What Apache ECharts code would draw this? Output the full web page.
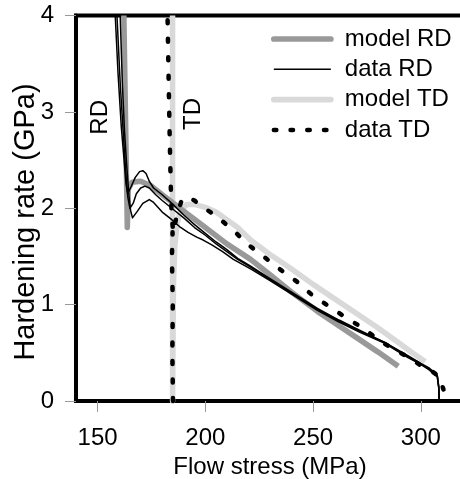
<!DOCTYPE html>
<html>
<head>
<meta charset="utf-8">
<script src="https://cdn.jsdelivr.net/npm/echarts@6/dist/echarts.min.js"></script>
<style>html,body{margin:0;padding:0;background:#fff}#c{width:460px;height:479px}</style>
</head>
<body>
<div id="c"></div>
<script>
// ---- data (flow stress MPa, hardening rate GPa) ----
var xTicks = [150, 200, 250, 300];
var yTicks = [0, 1, 2, 3, 4];

var modelRD = [[162.2,4.0],[163,2.9],[163.8,1.8],[164.3,2.2],[166,2.27],[170,2.28],[175,2.23],[180,2.14],[190,1.97],[200,1.80],[210,1.63],[221,1.47],[230,1.31],[240,1.13],[252,0.93],[260,0.81],[270,0.66],[280,0.51],[289.5,0.36]];

var modelTD = [[184.8,4.0],[184.8,0],[185.2,1.2],[185.8,1.6],[187,1.85],[188.5,1.98],[191.5,2.04],[195,2.04],[200,2.01],[205,1.96],[210,1.88],[215,1.80],[221,1.67],[230,1.52],[240,1.37],[250,1.21],[260,1.06],[270,0.91],[280,0.76],[290,0.60],[296,0.50],[302,0.41]];

var dataRD1 = [[158.2,4.0],[159.5,3.4],[161,2.85],[162.3,2.5],[163.2,2.25],[164,2.15],[165.5,2.22],[167.5,2.32],[169.5,2.38],[171,2.39],[172.5,2.36],[174,2.28],[176,2.21],[180,2.14],[185,2.04],[190,1.93],[195,1.83],[200,1.74],[205,1.65],[210,1.57],[215,1.48],[221,1.40],[230,1.27],[240,1.13],[252,0.96],[262,0.84],[272,0.73],[283,0.61],[294,0.47],[300,0.39],[304,0.34],[307.6,0.27],[308.3,0.15],[308.5,0]];
var dataRD2 = [[159,4.0],[160.5,3.3],[162,2.75],[163,2.4],[164,2.12],[165,2.0],[166.5,2.05],[168,2.15],[170,2.21],[172,2.23],[174,2.21],[177,2.14],[180,2.08],[185,1.99],[190,1.9],[195,1.8],[200,1.72],[205,1.63],[210,1.55],[215,1.47],[221,1.39],[230,1.26],[240,1.12],[252,0.95],[262,0.83],[272,0.72],[283,0.61],[294,0.46],[300,0.38],[304,0.33],[307.6,0.26],[308.3,0.14],[308.5,0]];
var dataRD3 = [[160.5,4.0],[161.5,3.3],[162.5,2.8],[163.5,2.45],[164.5,2.15],[165.3,1.98],[166.2,1.9],[167,1.92],[168.5,1.97],[171,2.05],[174,2.09],[176,2.06],[180,1.96],[184,1.89],[188,1.81],[192,1.75],[196,1.70],[199,1.67],[203,1.62],[208,1.55],[213,1.47],[221,1.37],[230,1.25],[240,1.11],[252,0.94],[262,0.82],[272,0.71],[283,0.60],[294,0.45],[300,0.38],[304,0.32],[307.6,0.25],[308.3,0.13],[308.5,0]];

var dataTDupper = [[182.5,3.95],[183,3.3],[183.5,2.7],[184,2.2],[184.4,1.9],[185.2,1.75],[186.5,1.9],[187.5,1.98],[189,2.08],[191,2.12],[195,2.08],[197,2.04],[205,1.92],[213,1.77],[220,1.62],[227,1.50],[235,1.36],[243,1.23],[250,1.09],[257.6,0.98],[265.5,0.86],[273,0.76],[280,0.64],[287,0.54],[294.6,0.45],[300.6,0.36],[305,0.31],[307.6,0.27],[309.5,0.18],[310.5,0.12]];
var dataTDlower = [[185,0],[184.7,0.5],[184.9,1.0],[184.5,1.5],[184.8,1.75]];

var legendNames = ['model RD', 'data RD', 'model TD', 'data TD'];

var FONT = "'Liberation Sans', Arial, sans-serif";
var C_MRD = '#999999', C_MTD = '#d9d9d9', C_DATA = '#000000';
var DOT = [2.5, 14.2];
var DOT_PLOT = [3, 15.5];
var chart = echarts.init(document.getElementById('c'), null, {renderer: 'canvas'});

function line(name, data, color, width, type, cap) {
  return {
    name: name, type: 'line', data: data, symbol: 'none', smooth: false,
    clip: false, animation: false,
    lineStyle: {color: color, width: width, type: type || 'solid', cap: cap || 'butt', join: 'round'},
    itemStyle: {color: color}, z: 3
  };
}

var legendStyles = [
  {color: C_MRD, width: 5.7, type: 'solid', cap: 'round'},
  {color: C_DATA, width: 1.5, type: 'solid'},
  {color: C_MTD, width: 5.7, type: 'solid', cap: 'round'},
  {color: C_DATA, width: 4.5, type: DOT, cap: 'round'}
];

chart.setOption({
  backgroundColor: '#fff',
  animation: false,
  textStyle: {fontFamily: FONT},
  grid: {left: 76, top: 15.5, width: 388, height: 385.5, outerBoundsMode: 'none', containLabel: false,
         show: true, borderColor: '#000', borderWidth: 4, backgroundColor: 'transparent'},
  legend: {
    data: legendNames.map(function (n, i) { return {name: n, lineStyle: legendStyles[i], itemStyle: {opacity: 0}}; }),
    orient: 'vertical', left: 271, top: 27, padding: 0,
    itemWidth: 57, itemHeight: 14, itemGap: 6.3,
    itemStyle: {opacity: 0},
    textStyle: {fontSize: 24, color: '#000', fontFamily: FONT, padding: [0, 0, 0, 9]}
  },
  xAxis: {
    type: 'value', min: 140, max: 320,
    name: 'Flow stress (MPa)', nameLocation: 'middle', nameGap: 50,
    nameTextStyle: {fontSize: 24, color: '#000', fontFamily: FONT},
    axisLine: {show: true, onZero: false, lineStyle: {color: '#000', width: 4}},
    axisTick: {show: true, customValues: xTicks, length: 11, inside: false, lineStyle: {color: '#999', width: 1}},
    axisLabel: {customValues: xTicks, fontSize: 24, color: '#000', margin: 25, fontFamily: FONT},
    splitLine: {show: false}
  },
  yAxis: {
    type: 'value', min: 0, max: 4, interval: 1,
    axisLine: {show: true, onZero: false, lineStyle: {color: '#000', width: 4}},
    axisTick: {show: true, length: 11, lineStyle: {color: '#999', width: 1}},
    axisLabel: {fontSize: 24, color: '#000', margin: 22, fontFamily: FONT},
    splitLine: {show: false}
  },
  graphic: [
    {type: 'text', x: 25.5, y: 222, rotation: Math.PI / 2,
     style: {text: 'Hardening rate (GPa)', font: "29px 'Liberation Sans', Arial", fill: '#000', align: 'center', verticalAlign: 'middle'}},
    {type: 'text', left: 88, top: 100, rotation: Math.PI / 2, style: {text: 'RD', font: "24px 'Liberation Sans', Arial", fill: '#000'}},
    {type: 'text', left: 181, top: 98, rotation: Math.PI / 2, style: {text: 'TD', font: "24px 'Liberation Sans', Arial", fill: '#000'}}
  ],
  series: [
    line('model TD', modelTD, C_MTD, 5.5),
    line('model RD', modelRD, C_MRD, 5.5),
    line('data RD', dataRD1, C_DATA, 1.5),
    line('data RD', dataRD2, C_DATA, 1.5),
    line('data RD', dataRD3, C_DATA, 1.5),
    line('data TD', dataTDupper, C_DATA, 4.5, DOT_PLOT, 'round'),
    line('data TD', dataTDlower, C_DATA, 4.5, DOT_PLOT, 'round')
  ]
});
</script>
</body>
</html>
